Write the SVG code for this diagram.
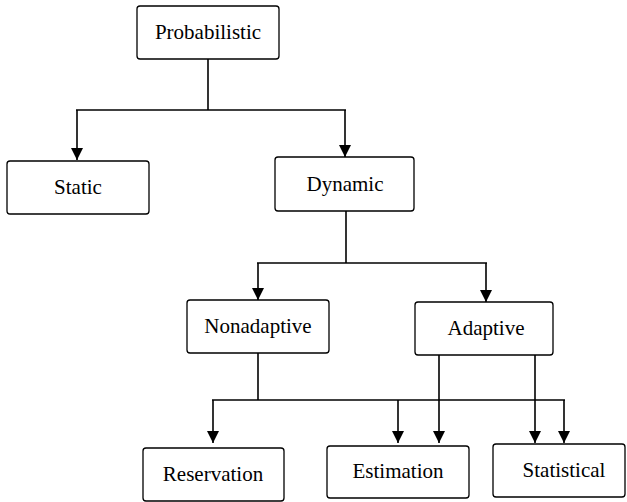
<svg xmlns="http://www.w3.org/2000/svg" width="627" height="502" viewBox="0 0 627 502">
<style>
.box{fill:#fff;stroke:#000;stroke-width:1.3}
.lbl{font-family:"Liberation Serif",serif;font-size:21px;text-anchor:middle;fill:#000}
.ln{fill:none;stroke:#000;stroke-width:1.6}
</style>
<defs>
<marker id="ah" markerWidth="12" markerHeight="12" viewBox="0 0 12 12" refX="12" refY="6" orient="auto" markerUnits="userSpaceOnUse">
<path d="M0,0 L12,6 L0,12 Z" fill="#000"/>
</marker>
</defs>
<g id="connectors">
<path class="ln" d="M208,59 V110"/>
<path class="ln" d="M76,110 H346"/>
<path class="ln" d="M77,110 V160" marker-end="url(#ah)"/>
<path class="ln" d="M345,110 V157" marker-end="url(#ah)"/>
<path class="ln" d="M346,211 V263"/>
<path class="ln" d="M257,263 H487"/>
<path class="ln" d="M258,263 V300" marker-end="url(#ah)"/>
<path class="ln" d="M486,263 V302" marker-end="url(#ah)"/>
<path class="ln" d="M258,353 V400"/>
<path class="ln" d="M212,400 H565"/>
<path class="ln" d="M213,400 V443" marker-end="url(#ah)"/>
<path class="ln" d="M398,400 V443" marker-end="url(#ah)"/>
<path class="ln" d="M564,400 V443" marker-end="url(#ah)"/>
<path class="ln" d="M439,355 V443" marker-end="url(#ah)"/>
<path class="ln" d="M535,355 V443" marker-end="url(#ah)"/>
</g>
<g id="probabilistic"><rect class="box" x="137" y="6" width="142" height="53" rx="3"/><text class="lbl" x="208" y="39">Probabilistic</text></g>
<g id="static"><rect class="box" x="7" y="161" width="142" height="53" rx="3"/><text class="lbl" x="78" y="194">Static</text></g>
<g id="dynamic"><rect class="box" x="275" y="157" width="139" height="54" rx="3"/><text class="lbl" x="345" y="191">Dynamic</text></g>
<g id="nonadaptive"><rect class="box" x="187" y="300" width="142" height="53" rx="3"/><text class="lbl" x="258" y="333">Nonadaptive</text></g>
<g id="adaptive"><rect class="box" x="415" y="302" width="138" height="53" rx="3"/><text class="lbl" x="486" y="335">Adaptive</text></g>
<g id="reservation"><rect class="box" x="143" y="448" width="141" height="53" rx="3"/><text class="lbl" x="213" y="481">Reservation</text></g>
<g id="estimation"><rect class="box" x="327" y="446" width="142" height="52" rx="3"/><text class="lbl" x="398" y="478">Estimation</text></g>
<g id="statistical"><rect class="box" x="493" y="444" width="132" height="53" rx="3"/><text class="lbl" x="564" y="477">Statistical</text></g>
</svg>
